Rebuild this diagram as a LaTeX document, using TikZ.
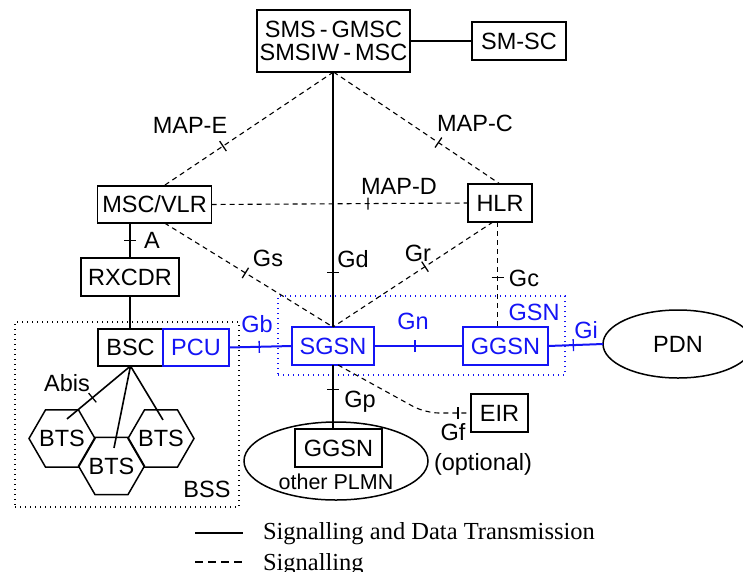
\documentclass[tikz,border=0pt]{standalone}
\usepackage{fontspec}
\setmainfont{Liberation Sans}
\newfontfamily\legendfont{Liberation Serif}
\usetikzlibrary{shapes.geometric,decorations.markings,calc}
\definecolor{gsnblue}{RGB}{20,20,245}
\begin{document}
\begin{tikzpicture}[x=1pt,y=-1pt,
  every node/.style={inner sep=0pt, outer sep=0pt},
  txt/.style={font=\fontsize{23.5}{23}\selectfont},
  box/.style={txt, draw, line width=1.8pt, minimum height=38pt, align=center},
  gbox/.style={box, draw=gsnblue, text=gsnblue},
  lbl/.style={txt, anchor=base},
  glbl/.style={lbl, text=gsnblue},
  data/.style={line width=2pt},
  gdata/.style={data, color=gsnblue},
  sig/.style={line width=1.1pt, dash pattern=on 5pt off 4pt},
  tick at/.style={postaction={decorate,decoration={markings,
      mark=at position #1 with {\draw[solid,line width=1.3pt] (0pt,-6pt) -- (0pt,6pt);}}}},
  btscell/.style={draw, line width=1.5pt, regular polygon, regular polygon sides=6, minimum size=66pt},
  cloud/.style={draw, ellipse, line width=1.5pt},
  group/.style={line width=1.5pt, dash pattern=on 1.4pt off 3.6pt},
  legtext/.style={anchor=base west, font=\legendfont\fontsize{24.5}{26}\selectfont},
]
\useasboundingbox (0,0) rectangle (743,571);

% grouping frames
\node[group, draw, minimum width=224pt, minimum height=185pt] (bss) at (127,414.5) {};
\node[group, draw=gsnblue, minimum width=287pt, minimum height=79pt] (gsn) at (421.5,335.5) {};

% network elements
\node[box, minimum width=153pt, minimum height=62pt] (sms) at (333.5,41) {SMS\,-\,GMSC\\SMSIW\,-\,MSC};
\node[box, minimum width=94pt] (smsc) at (519,41) {SM-SC};
\node[box, minimum width=114pt, minimum height=37pt] (msc) at (154.5,204.5) {MSC/VLR};
\node[box, minimum width=64pt] (hlr) at (500,203) {HLR};
\node[box, minimum width=98pt] (rx) at (130,277) {RXCDR};
\node[box, minimum width=65pt, minimum height=37pt] (bsc) at (130.5,347.5) {BSC};
\node[gbox, minimum width=66pt, minimum height=37pt] (pcu) at (196,347.5) {PCU};
\node[gbox, minimum width=82pt] (sgsn) at (333,346) {SGSN};
\node[gbox, minimum width=85pt] (ggsn) at (505.5,346) {GGSN};
\node[cloud, minimum width=184pt, minimum height=78pt] (plmn) at (336,461) {};
\node[box, minimum width=87pt] (gg2) at (338.5,448) {GGSN};
\node[box, minimum width=57pt] (eir) at (499.5,413) {EIR};
\node[cloud, txt, minimum width=150pt, minimum height=68pt] (pdn) at (678,344) {PDN};

% base transceiver stations
\node[btscell] (bts1) at (62,438.5) {};
\node[btscell] (bts3) at (161,438.5) {};
\node[btscell] (bts2) at (111.5,466) {};
\node[txt] (bts1t) at (bts1.center) {BTS};
\node[txt] (bts2t) at (bts2.center) {BTS};
\node[txt] (bts3t) at (bts3.center) {BTS};

% interfaces
\draw[data] (sms.east) -- (smsc.west);
\draw[sig, tick at=0.65] (sms.south) -- ($(msc.north)+(9,0)$);
\draw[sig, tick at=0.63] (sms.south) -- (hlr.north);
\draw[sig, tick at=0.61] (msc.east) -- (hlr.west);
\draw[data, tick at=0.5] (msc.south -| rx.north) -- (rx.north);
\draw[data] (rx.south) -- (rx.south |- bsc.north);
\draw[sig, tick at=0.48] ($(msc.south)+(10,0)$) -- (sgsn.north);
\draw[data, tick at=0.785] (sms.south -| sgsn.north) -- (sgsn.north);
\draw[sig, tick at=0.425] ($(hlr.south)+(-7,0)$) -- (sgsn.north);
\draw[sig, tick at=0.53] ($(hlr.south)+(-2.5,0)$) -- ($(hlr.south |- ggsn.north)+(-2.5,0)$);
\draw[gdata, tick at=0.48] (pcu.east) -- (sgsn.west);
\draw[gdata, tick at=0.46] (sgsn.east) -- (ggsn.west);
\draw[gdata, tick at=0.46] (ggsn.east) -- (pdn.west);
\draw[data, tick at=0.38] (sgsn.south) -- (sgsn.south |- gg2.north);
\coordinate (gfbend) at (425,413);
\draw[sig, rounded corners=14pt, tick at=-13pt] ($(sgsn.south)+(5,0)$) -- (gfbend) -- (eir.west);
\draw[data, line width=1.6pt, tick at=0.6] (bsc.south) -- ($(bts1.north)+(5,9)$);
\draw[data, line width=1.6pt] (bsc.south) -- ($(bts2.north)+(2.5,10.5)$);
\draw[data, line width=1.6pt] (bsc.south) -- ($(bts3.north)+(2,10)$);

% interface labels
\node[lbl] (tMAPE) at (190,133) {MAP-E};
\node[lbl] (tMAPC) at (475,131) {MAP-C};
\node[lbl] (tMAPD) at (399,194) {MAP-D};
\node[lbl] (tA) at (152,248) {A};
\node[lbl] (tGs) at (268,266) {Gs};
\node[lbl] (tGd) at (353,267) {Gd};
\node[lbl] (tGr) at (418,261) {Gr};
\node[lbl] (tGc) at (524,286) {Gc};
\node[glbl] (tGb) at (257,332) {Gb};
\node[glbl] (tGn) at (413,329) {Gn};
\node[glbl] (tGSN) at (534,320) {GSN};
\node[glbl] (tGi) at (586,338) {Gi};
\node[lbl] (tAbis) at (67,391) {Abis};
\node[lbl] (tGp) at (360,407) {Gp};
\node[lbl] (tGf) at (453,440) {Gf};
\node[lbl] (topt) at (483,470) {(optional)};
\node[lbl, font=\fontsize{21.5}{22}\selectfont] (tplmn) at (336,489) {other PLMN};
\node[lbl] (tBSS) at (207,497) {BSS};

% legend
\coordinate (l1a) at (195,533); \coordinate (l1b) at (243,533);
\coordinate (l2a) at (195,562); \coordinate (l2b) at (243,562);
\draw[data] (l1a) -- (l1b);
\draw[sig, dash pattern=on 8pt off 5pt] (l2a) -- (l2b);
\node[legtext] (leg1) at (263,539) {Signalling and Data Transmission};
\node[legtext] (leg2) at (263,570) {Signalling};
\end{tikzpicture}
\end{document}
